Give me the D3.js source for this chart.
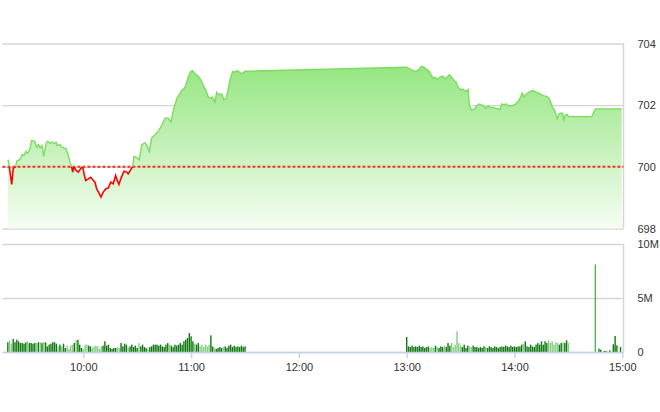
<!DOCTYPE html>
<html><head><meta charset="utf-8">
<script src="https://cdn.jsdelivr.net/npm/d3@7/dist/d3.min.js"></script>
<style>
body{margin:0;background:#fff}
svg{display:block}
text{font-family:"Liberation Sans",Arial,sans-serif;font-size:11px;fill:#333}
</style>
</head><body>
<svg id="chart" width="660" height="412"></svg>
<script>
// ---------------- DATA ----------------
const priceTimes = ["9:18:05","9:18:40","9:20:10","9:21:00","9:22:20","9:22:55","9:24:45","9:26:00","9:27:00","9:28:00","9:29:00","9:30:20","9:31:15","9:33:00","9:34:00","9:35:00","9:36:00","9:37:00","9:38:00","9:39:15","9:40:10","9:41:30","9:42:45","9:43:50","9:44:50","9:45:30","9:47:00","9:48:00","9:50:20","9:51:40","9:52:35","9:53:30","9:54:05","9:54:50","9:56:00","9:57:15","9:58:30","9:59:40","10:00:25","10:01:20","10:02:45","10:04:05","10:05:15","10:06:30","10:07:25","10:08:45","10:09:50","10:11:05","10:12:35","10:13:55","10:15:15","10:16:40","10:18:00","10:18:55","10:19:50","10:21:10","10:22:40","10:24:10","10:25:00","10:26:20","10:27:30","10:28:10","10:29:40","10:31:10","10:32:30","10:34:20","10:35:15","10:36:45","10:38:00","10:39:55","10:41:45","10:43:35","10:45:30","10:47:20","10:48:50","10:50:05","10:52:00","10:53:25","10:54:45","10:56:00","10:57:10","10:58:25","10:59:45","11:00:50","11:02:10","11:04:00","11:05:20","11:06:45","11:08:15","11:09:35","11:10:55","11:12:00","11:13:15","11:14:15","11:15:30","11:17:00","11:18:15","11:19:25","11:20:40","11:22:00","11:23:10","11:24:25","11:25:40","11:26:50","11:28:10","11:30:00",
"13:00:00","13:02:10","13:03:40","13:05:30","13:07:00","13:08:20","13:09:35","13:11:05","13:12:30","13:13:50","13:14:45","13:15:40","13:17:00","13:18:30","13:20:00","13:21:15","13:22:35","13:23:40","13:25:00","13:25:55","13:27:25","13:28:40","13:30:00","13:31:30","13:33:00","13:34:15","13:34:50","13:36:10","13:37:25","13:38:55","13:40:20","13:41:40","13:43:00","13:44:05","13:45:20","13:46:45","13:48:10","13:49:30","13:51:00","13:51:55","13:52:50","13:54:05","13:55:15","13:56:30","13:57:50","13:59:15","14:00:45","14:02:00","14:03:25","14:04:15","14:05:15","14:06:45","14:08:10","14:10:05","14:11:55","14:14:10","14:16:00","14:18:10","14:19:20","14:20:05","14:21:10","14:22:30","14:23:45","14:24:55","14:25:40","14:26:45","14:27:30","14:28:15","14:29:20","14:30:00","14:43:00","14:45:00","14:59:40"];
const priceValues = [700.23,700.07,699.43,699.95,700.00,700.18,700.24,700.40,700.37,700.50,700.44,700.59,700.85,700.83,700.64,700.72,700.62,700.69,700.34,700.75,700.83,700.77,700.80,700.75,700.80,700.69,700.72,700.64,700.59,700.37,700.15,700.01,699.83,700.01,699.88,699.83,699.94,700.01,699.77,699.56,699.61,699.66,699.58,699.50,699.29,699.15,699.02,699.18,699.29,699.31,699.50,699.45,699.72,699.56,699.43,699.66,699.86,699.83,699.77,699.90,700.01,700.34,700.31,700.23,700.71,700.78,700.71,700.50,700.93,701.04,701.15,701.34,701.58,701.58,701.45,701.83,702.21,702.34,702.48,702.53,702.66,702.91,703.09,703.12,703.02,702.94,702.83,702.64,702.48,702.26,702.23,702.26,702.10,702.42,702.34,702.37,702.18,702.21,702.53,702.91,703.09,703.07,703.12,703.07,703.02,703.10,
703.23,703.16,703.12,703.09,703.18,703.26,703.23,703.16,703.09,702.96,702.86,702.91,702.83,702.91,702.94,702.86,702.91,702.99,702.91,702.83,702.75,702.58,702.51,702.51,702.44,702.51,701.99,701.83,701.86,701.97,702.04,702.01,701.97,701.90,701.97,701.93,701.93,701.90,701.88,701.86,702.04,702.01,702.04,701.97,701.99,701.99,702.04,702.12,702.26,702.40,702.27,702.37,702.42,702.48,702.42,702.37,702.31,702.28,702.21,702.10,701.93,701.80,701.56,701.72,701.74,701.74,701.53,701.67,701.70,701.63,701.63,701.88,701.88];
const refPrice = 700;
const priceTicks = [698, 700, 702, 704];
const volTicks = [0, 5, 10];            // millions of shares
const volTickLabels = ["0", "5M", "10M"];
const timeTicks = ["10:00", "11:00", "12:00", "13:00", "14:00", "15:00"];
const axisStart = "9:15", axisEnd = "15:00";
// per-minute volumes (millions)
const volMorningStart = "9:18";
const volMorning = [0.90,1.08,0.77,1.20,0.90,1.14,0.99,0.83,0.83,0.77,0.90,0.99,0.83,0.83,0.77,0.83,0.83,0.90,0.90,0.83,0.90,0.90,0.52,0.68,0.77,0.90,0.90,0.77,0.52,0.68,0.52,0.77,0.37,0.59,0.28,0.59,0.68,0.83,1.08,1.14,0.68,0.37,0.28,0.68,0.68,0.59,0.52,0.37,0.52,0.59,0.52,0.28,0.52,0.59,0.99,0.59,0.68,0.37,0.28,0.37,0.37,0.46,0.37,0.83,0.52,0.77,0.68,0.37,
0.52,0.68,0.46,0.59,0.37,0.83,0.52,0.68,0.46,0.37,0.28,0.46,0.52,0.68,0.68,0.68,0.59,0.68,0.52,0.46,0.68,0.83,0.68,0.59,0.46,0.68,0.59,0.68,0.83,0.68,0.99,1.14,1.30,1.76,1.45,0.99,0.77,0.68,0.83,
0.52,0.68,0.46,0.68,0.52,0.68,1.54,0.52,0.37,0.28,0.37,0.46,0.37,0.46,0.52,0.37,0.59,0.68,0.46,0.59,0.46,0.52,0.46,0.59,0.46,0.52];
const volAfternoonStart = "13:00";
const volAfternoon = [1.39,0.52,0.46,0.59,0.46,0.52,0.46,
0.59,0.46,0.52,0.37,0.46,0.52,0.37,0.46,0.37,0.59,0.46,0.37,0.52,0.46,0.59,0.46,0.83,0.59,0.83,0.46,0.68,1.91,0.83,0.59,0.46,0.68,0.37,0.59,0.52,0.46,0.59,0.46,0.46,0.37,0.46,0.37,0.52,0.46,0.37,0.52,0.46,0.37,0.52,0.46,0.37,0.46,0.52,0.46,0.59,0.52,0.46,0.59,0.46,0.52,0.46,0.52,0.52,0.68,0.77,0.99,0.52,0.46,0.68,0.52,0.46,0.68,0.83,0.68,0.99,0.68,0.99,0.83,1.08,0.83,0.99,0.68,0.90,0.83,0.68,0.83,0.90,0.83,1.08,0.83];
const volLateTimes = ["14:45","14:47","14:48","14:50","14:51","14:53","14:55","14:56","14:57","14:59"];
const volLate = [8.1,0.31,0.22,0.10,0.10,0.15,0.71,1.48,0.62,0.46];

// ---------------- HELPERS ----------------
function toMin(s){ const p = s.split(":").map(Number); return p[0]*60 + p[1] + (p[2]||0)/60; }
const price = priceTimes.map((t,i)=>({t: toMin(t), v: priceValues[i]}));
const vols = [];
volMorning.forEach((v,i)=>vols.push({t: toMin(volMorningStart)+i, v}));
volAfternoon.forEach((v,i)=>vols.push({t: toMin(volAfternoonStart)+i, v}));
volLate.forEach((v,i)=>vols.push({t: toMin(volLateTimes[i]), v}));

// ---------------- SCALES ----------------
const svg = d3.select("#chart");
const xL = 2.45, xR = 622.3, plotRight = 623.5;
const x = d3.scaleLinear().domain([toMin(axisStart), toMin(axisEnd)]).range([xL, xR]);
const yP = d3.scaleLinear().domain([698, 704]).range([228.5, 43.5]);
const yV = d3.scaleLinear().domain([0, 10]).range([352, 244]);
const priceAt = d3.scaleLinear().domain(price.map(d=>d.t)).range(price.map(d=>d.v)).clamp(true);

const gridColor = "#d5d5d5";

// ---------------- PRICE PANEL ----------------
const defs = svg.append("defs");
const grad = defs.append("linearGradient").attr("id","areaGrad")
  .attr("gradientUnits","userSpaceOnUse").attr("x1",0).attr("x2",0).attr("y1",yP(704)).attr("y2",yP(698));
grad.append("stop").attr("offset",0).attr("stop-color","#88e373");
grad.append("stop").attr("offset",0.55).attr("stop-color","#c4f1b8");
grad.append("stop").attr("offset",1).attr("stop-color","#f6fdf4");

defs.append("clipPath").attr("id","clipUp").append("rect")
  .attr("x",0).attr("y",0).attr("width",660).attr("height",yP(refPrice));
defs.append("clipPath").attr("id","clipDown").append("rect")
  .attr("x",0).attr("y",yP(refPrice)).attr("width",660).attr("height",412);

const pAxis = svg.append("g").attr("transform",`translate(${plotRight},0)`)
  .call(d3.axisRight(yP).tickValues(priceTicks).tickSize(-(plotRight-xL)).tickPadding(14).tickFormat(d3.format("d")));
pAxis.select(".domain").remove();
pAxis.selectAll("line").attr("stroke",gridColor).attr("stroke-width",1.4);
pAxis.selectAll("text").attr("fill","#333").style("font-size","11px");

svg.append("line").attr("x1",plotRight).attr("x2",plotRight).attr("y1",yP(704)).attr("y2",yP(698))
  .attr("stroke",gridColor).attr("stroke-width",1.4);

const area = d3.area().x(d=>x(d.t)).y0(yP(698)).y1(d=>yP(d.v));
svg.append("path").datum(price).attr("d",area).attr("fill","url(#areaGrad)");

svg.append("line").attr("x1",xL).attr("x2",plotRight).attr("y1",yP(refPrice)).attr("y2",yP(refPrice))
  .attr("stroke","#f2331c").attr("stroke-width",2).attr("stroke-dasharray","3,2");

const line = d3.line().x(d=>x(d.t)).y(d=>yP(d.v));
svg.append("path").datum(price).attr("d",line).attr("fill","none")
  .attr("stroke","#7ddb5f").attr("stroke-width",1.4).attr("clip-path","url(#clipUp)");
svg.append("path").datum(price).attr("d",line).attr("fill","none")
  .attr("stroke","#ff0000").attr("stroke-width",1.6).attr("clip-path","url(#clipDown)");

// ---------------- VOLUME PANEL ----------------
const vAxis = svg.append("g").attr("transform",`translate(${plotRight},0)`)
  .call(d3.axisRight(yV).tickValues(volTicks).tickSize(-(plotRight-xL)).tickPadding(14)
    .tickFormat((d,i)=>volTickLabels[i]));
vAxis.select(".domain").remove();
vAxis.selectAll("line").attr("stroke",gridColor).attr("stroke-width",1.4);
vAxis.selectAll("text").attr("fill","#333").style("font-size","11px");

svg.append("line").attr("x1",plotRight).attr("x2",plotRight).attr("y1",yV(10)).attr("y2",yV(0))
  .attr("stroke",gridColor).attr("stroke-width",1.4);

svg.append("g").selectAll("rect").data(vols).join("rect")
  .attr("x",d=>x(d.t)-0.7).attr("width",1.4)
  .attr("y",d=>yV(d.v)).attr("height",d=>yV(0)-yV(d.v))
  .attr("fill",d=> d.v > 5 ? "#52b152" : (priceAt(d.t) < priceAt(d.t-1) - 0.05 ? "#86cc82" : "#0f780f"));

const xAxis = svg.append("g").attr("transform",`translate(0,${yV(0)})`)
  .call(d3.axisBottom(x).tickValues(timeTicks.map(toMin)).tickSize(6).tickSizeOuter(0).tickPadding(5)
    .tickFormat((d,i)=>timeTicks[i]));
xAxis.select(".domain").attr("stroke","#c3d3e6").attr("stroke-width",1.4);
xAxis.selectAll("line").attr("stroke","#c3d3e6").attr("stroke-width",1.4);
xAxis.selectAll("text").attr("fill","#333").style("font-size","11px");
</script>
</body></html>
